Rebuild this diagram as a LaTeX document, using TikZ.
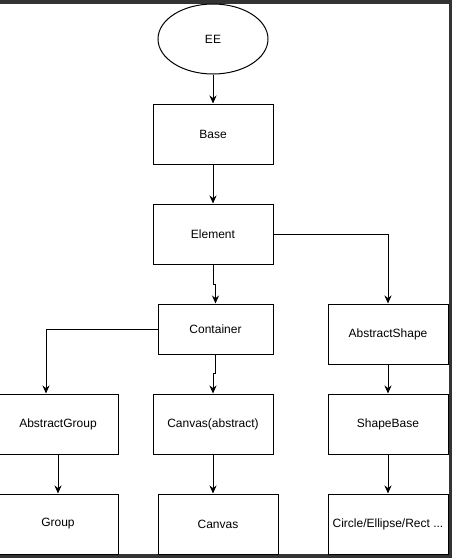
\documentclass[tikz,border=0pt]{standalone}
\usepackage{fontspec}
\setmainfont{Liberation Sans}
\usetikzlibrary{shapes.geometric,arrows.meta}
\begin{document}
\begin{tikzpicture}[x=1pt,y=-1pt,
  box/.style={draw=black,line width=1pt,fill=white,rectangle,inner sep=0pt,minimum width=120pt,minimum height=60pt,font=\fontsize{12}{14}\selectfont},
  oval/.style={draw=black,line width=1pt,fill=white,ellipse,inner sep=0pt,minimum width=110pt,minimum height=70pt,font=\fontsize{12}{14}\selectfont},
  conn/.style={draw=black,line width=1pt,-{Stealth[length=8pt,width=7pt]}}]
\useasboundingbox (0,0) rectangle (452,558);
\clip (0,0) rectangle (452,558);
\fill[black!80] (0,0) rectangle (452,558);
\fill[white] (0,4) rectangle (449,554);
\node[oval] (ee) at (213,39) {EE};
\node[box] (base) at (213,134) {Base};
\node[box] (element) at (213,234) {Element};
\node[box,minimum width=115pt,minimum height=50pt] (container) at (215.5,329) {Container};
\node[box] (ashape) at (388,334) {AbstractShape};
\node[box] (agroup) at (58,424) {AbstractGroup};
\node[box] (canvasa) at (213,424) {Canvas(abstract)};
\node[box] (shapebase) at (388,424) {ShapeBase};
\node[box] (group) at (58,524) {Group};
\node[box] (canvas) at (218,524) {Canvas};
\node[box] (circle) at (388,524) {Circle/Ellipse/Rect ...};
\coordinate (gtop) at ([xshift=-12pt]agroup.north);
\draw[conn] (ee.south) -- (base.north);
\draw[conn] (base.south) -- (element.north);
\draw[conn] (element.south) -- ++(0,20) -| (container.north);
\draw[conn] (element.east) -| (ashape.north);
\draw[conn] (container.west) -| (gtop);
\draw[conn] (container.south) -- ++(0,19) -| (canvasa.north);
\draw[conn] (agroup.south) -- (group.north);
\draw[conn] (canvasa.south) -- (canvasa.south |- canvas.north);
\draw[conn] (ashape.south) -- (shapebase.north);
\draw[conn] (shapebase.south) -- (circle.north);
\end{tikzpicture}
\end{document}
